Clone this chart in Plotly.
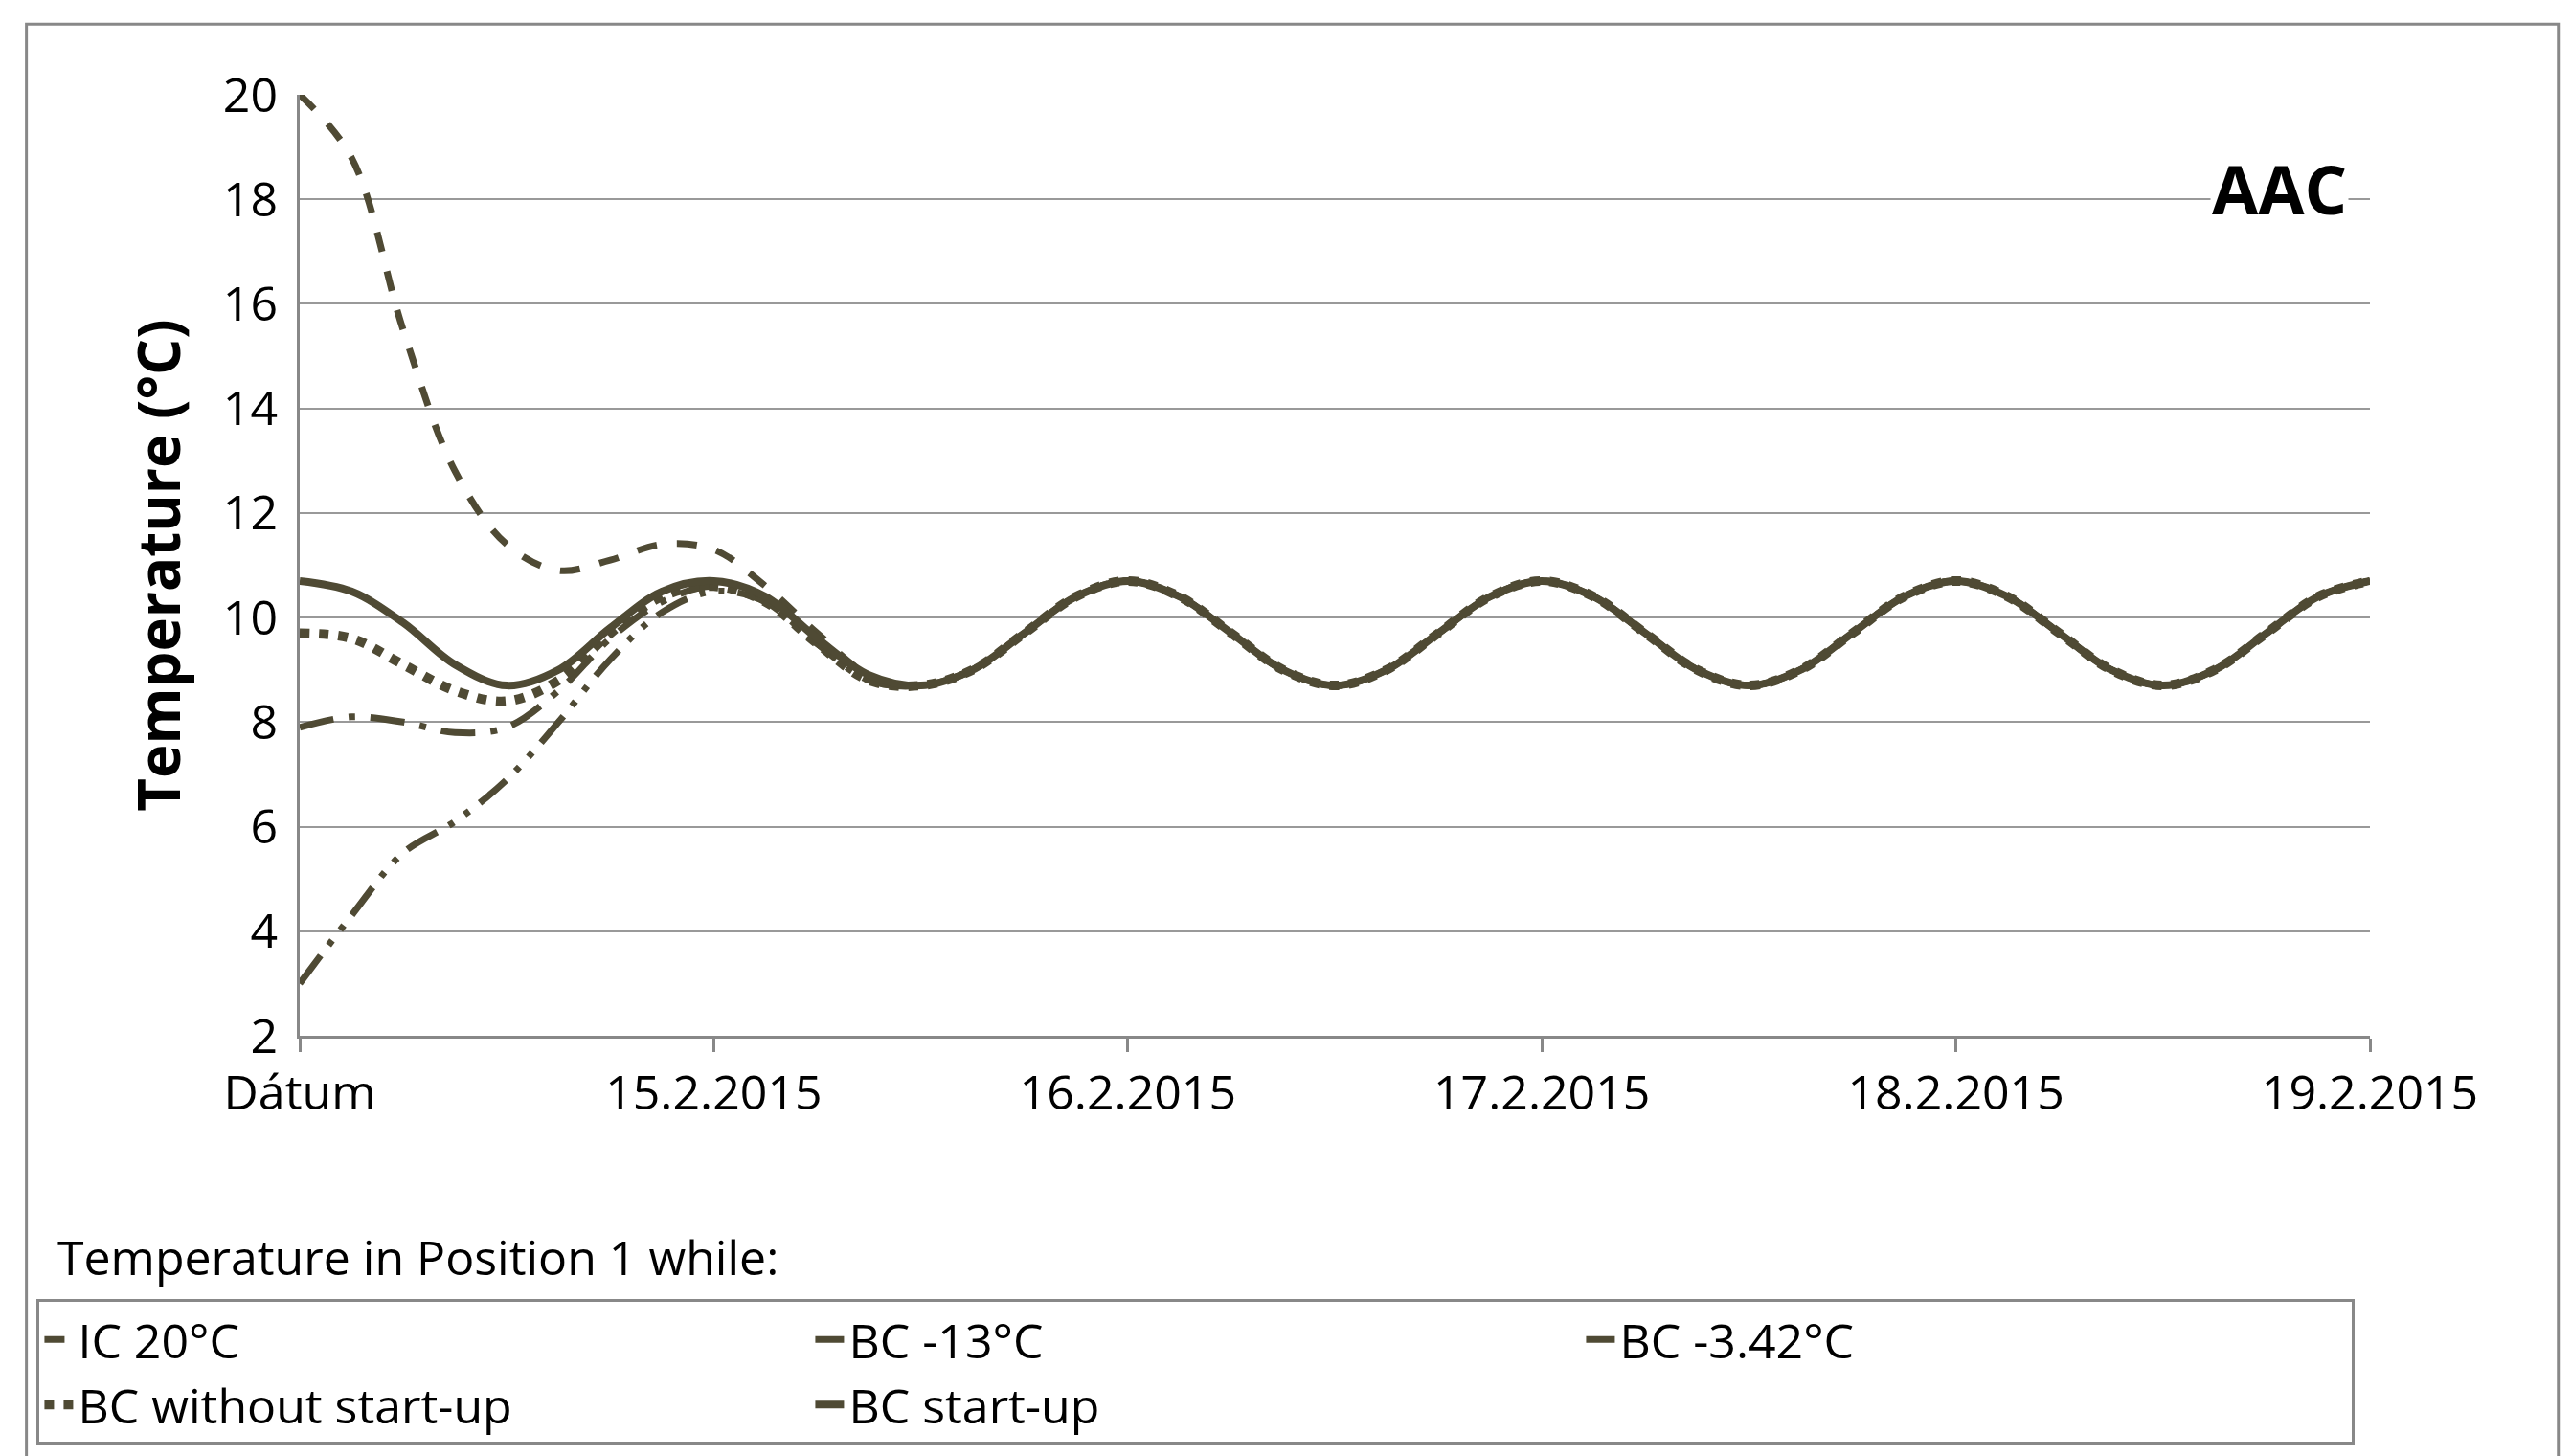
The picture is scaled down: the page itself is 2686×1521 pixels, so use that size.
import plotly.graph_objects as go

# time in days since 14.2.2015 00:00, sampled every 3 h
days = [i * 0.125 for i in range(41)]

steady = [8.7, 9.0, 9.7, 10.4, 10.7, 10.4, 9.7, 9.0]
tail = steady * 3 + [8.7, 9.0, 9.7, 10.4, 10.7]  # from 1.5 to 5.0

ic20 = [20.0, 18.8, 15.5, 12.8, 11.4, 10.9, 11.1, 11.4, 11.3, 10.6, 9.7, 8.9] + tail
bc_m13 = [3.0, 4.3, 5.5, 6.1, 6.9, 8.0, 9.2, 10.1, 10.5, 10.3, 9.5, 8.8] + tail
bc_m342 = [7.9, 8.1, 8.0, 7.8, 7.9, 8.6, 9.6, 10.3, 10.6, 10.3, 9.5, 8.8] + tail
bc_no_start = [9.7, 9.6, 9.1, 8.6, 8.4, 8.8, 9.7, 10.4, 10.6, 10.3, 9.5, 8.8] + tail
bc_start = [10.7, 10.5, 9.9, 9.1, 8.7, 9.0, 9.8, 10.5, 10.7, 10.4, 9.6, 8.9] + tail

tick_vals = [0, 1, 2, 3, 4, 5]
tick_text = ["Dátum", "15.2.2015", "16.2.2015", "17.2.2015", "18.2.2015", "19.2.2015"]

col = "#4f4a34"
FONT = "Open Sans"

series = [
    ("IC 20°C", ic20, "dash", 7),
    ("BC -13°C", bc_m13, "36px,14px,6px,14px,6px,14px", 7),
    ("BC -3.42°C", bc_m342, "36px,16px,7px,16px", 7),
    ("BC without start-up", bc_no_start, "dot", 10),
    ("BC start-up", bc_start, "solid", 8),
]

fig = go.Figure()
for name, vals, dash, w in series:
    fig.add_trace(go.Scatter(x=days, y=vals, name=name, mode="lines",
                             line=dict(color=col, dash=dash, width=w, shape="spline")))

fig.update_layout(
    width=2686, height=1521, plot_bgcolor="white", paper_bgcolor="white",
    margin=dict(l=305, r=219, t=91, b=447),
    font=dict(family=FONT, size=50, color="black"),
    xaxis=dict(range=[0, 5], tickvals=tick_vals, ticktext=tick_text, showgrid=False,
               showline=True, linecolor="#888", linewidth=3, ticks="outside",
               ticklen=14, tickcolor="#888", tickwidth=3, zeroline=False),
    yaxis=dict(range=[2, 20], dtick=2, showgrid=True, gridcolor="#999", gridwidth=2,
               showline=True, linecolor="#888", linewidth=3, zeroline=False,
               ticklabelstandoff=10,
               title=dict(text="<b>Temperature (°C)</b>", standoff=25)),
    legend=dict(orientation="h", x=-0.127, y=-0.28, xanchor="left", yanchor="top",
                entrywidth=760, entrywidthmode="pixels", bordercolor="#888",
                borderwidth=3, font=dict(size=50), itemwidth=30),
    showlegend=True,
)

fig.add_annotation(text="Temperature in Position 1 while:", xref="paper", yref="paper",
                   x=-0.118, y=-0.235, xanchor="left", yanchor="middle", showarrow=False,
                   font=dict(size=50))
fig.add_annotation(text="<b>AAC</b>", xref="paper", yref="y", x=0.99, y=18.2,
                   xanchor="right", yanchor="middle", showarrow=False,
                   bgcolor="white", font=dict(size=70))
fig.add_shape(type="rect", xref="paper", yref="paper", x0=-0.132, x1=1.091,
              y0=-0.45, y1=1.075, line=dict(color="#888", width=3))

fig.write_html("out.html")
